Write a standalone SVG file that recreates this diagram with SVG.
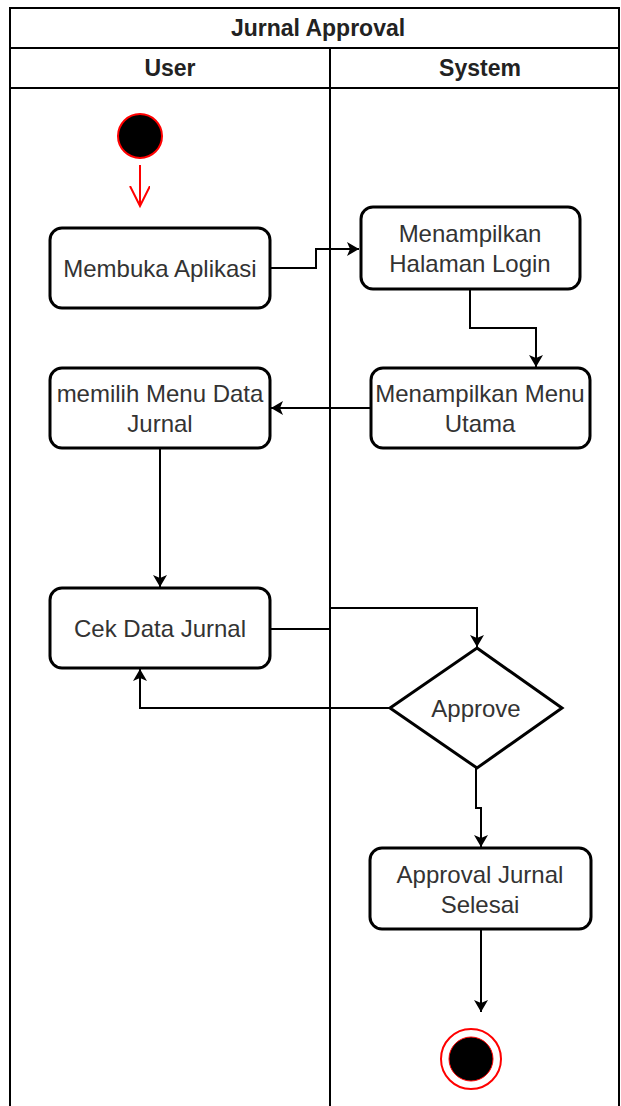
<svg xmlns="http://www.w3.org/2000/svg" width="621" height="1106" viewBox="0 0 621 1106">
<style>
.frame{fill:none;stroke:#000;stroke-width:2}
.box{fill:#fff;stroke:#000;stroke-width:3}
.lbl{font-family:"Liberation Sans",Arial,sans-serif;font-size:24px;fill:#333;text-anchor:middle}
.hdr{font-family:"Liberation Sans",Arial,sans-serif;font-size:23px;font-weight:bold;fill:#222;text-anchor:middle}
.edge{fill:none;stroke:#000;stroke-width:2}
</style>
<defs>
<marker id="ah" markerWidth="14" markerHeight="14" refX="12" refY="7" orient="auto" markerUnits="userSpaceOnUse">
<path d="M0,0 L12,7 L0,14 L3,7 Z" fill="#000"/>
</marker>
<marker id="ao" markerWidth="24" markerHeight="24" refX="20" refY="10" orient="auto" markerUnits="userSpaceOnUse">
<path d="M0,0 L20,10 L0,20" fill="none" stroke="#f00" stroke-width="2"/>
</marker>
</defs>
<rect width="621" height="1106" fill="#fff"/>
<g id="swimlane">
<rect class="frame" x="10" y="8" width="609" height="1110"/>
<line class="frame" x1="10" y1="48" x2="619" y2="48"/>
<line class="frame" x1="10" y1="88" x2="619" y2="88"/>
<line class="frame" x1="330" y1="48" x2="330" y2="1106"/>
<text class="hdr" x="318" y="36">Jurnal Approval</text>
<text class="hdr" x="170" y="76">User</text>
<text class="hdr" x="480" y="76">System</text>
</g>
<g id="connectors">
<line x1="140" y1="165" x2="140" y2="206" stroke="#f00" stroke-width="2" marker-end="url(#ao)"/>
<path class="edge" d="M270,268 H316 V249 H359" marker-end="url(#ah)"/>
<path class="edge" d="M470,289 V328 H536 V367" marker-end="url(#ah)"/>
<path class="edge" d="M371,408 H271" marker-end="url(#ah)"/>
<path class="edge" d="M160,448 V587" marker-end="url(#ah)"/>
<path class="edge" d="M270,629 H330 V608 H477 V647" marker-end="url(#ah)"/>
<path class="edge" d="M390,708 H140 V669" marker-end="url(#ah)"/>
<path class="edge" d="M476,768 V808 H481 V847" marker-end="url(#ah)"/>
<path class="edge" d="M481,929 V1012" marker-end="url(#ah)"/>
</g>
<g id="start">
<circle cx="140" cy="136" r="22" fill="#000" stroke="#f00" stroke-width="2"/>
</g>
<g id="membuka">
<rect class="box" x="50" y="228" width="220" height="80" rx="12"/>
<text class="lbl" x="160" y="277">Membuka Aplikasi</text>
</g>
<g id="login">
<rect class="box" x="361" y="207" width="219" height="82" rx="12"/>
<text class="lbl" x="470" y="242">Menampilkan</text>
<text class="lbl" x="470" y="272">Halaman Login</text>
</g>
<g id="menu">
<rect class="box" x="371" y="368" width="219" height="80" rx="12"/>
<text class="lbl" x="480" y="402">Menampilkan Menu</text>
<text class="lbl" x="480" y="432">Utama</text>
</g>
<g id="memilih">
<rect class="box" x="50" y="368" width="220" height="80" rx="12"/>
<text class="lbl" x="160" y="402">memilih Menu Data</text>
<text class="lbl" x="160" y="432">Jurnal</text>
</g>
<g id="cek">
<rect class="box" x="50" y="588" width="220" height="80" rx="12"/>
<text class="lbl" x="160" y="637">Cek Data Jurnal</text>
</g>
<g id="approve">
<polygon points="477,648 562,708 477,768 390,708" fill="#fff" stroke="#000" stroke-width="3"/>
<text class="lbl" x="476" y="717">Approve</text>
</g>
<g id="selesai">
<rect class="box" x="370" y="848" width="221" height="81" rx="12"/>
<text class="lbl" x="480" y="883">Approval Jurnal</text>
<text class="lbl" x="480" y="913">Selesai</text>
</g>
<g id="end">
<circle cx="471" cy="1059" r="30" fill="#fff" stroke="#f00" stroke-width="2"/>
<circle cx="471" cy="1059" r="22" fill="#000" stroke="#f00" stroke-width="1"/>
</g>
</svg>
